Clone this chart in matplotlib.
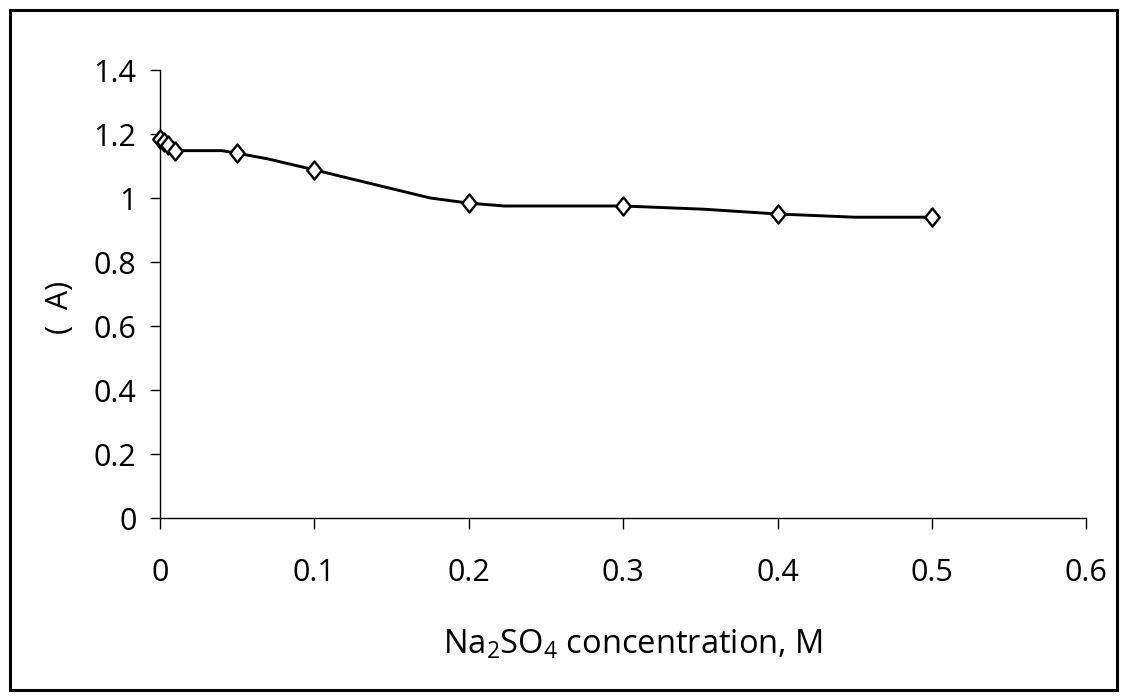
import numpy as np
import matplotlib
matplotlib.use("Agg")
import matplotlib.pyplot as plt
from matplotlib.patches import Rectangle
from matplotlib.path import Path

# ── Data ──────────────────────────────────────────────────────────────────────
conc_pts = [0.0, 0.0025, 0.005, 0.01, 0.05, 0.1, 0.2, 0.3, 0.4, 0.5]
current_pts = [1.185, 1.175, 1.165, 1.148, 1.14, 1.088, 0.984, 0.975, 0.95, 0.94]

# line drawn through the points plus the kinks visible between them
conc_line = [0.0, 0.0025, 0.005, 0.01, 0.04, 0.05, 0.07, 0.1, 0.122, 0.175,
             0.2, 0.223, 0.3, 0.352, 0.4, 0.45, 0.5]
current_line = [1.185, 1.175, 1.165, 1.148, 1.148, 1.14, 1.122, 1.088, 1.062, 1.0,
                0.984, 0.975, 0.975, 0.965, 0.95, 0.94, 0.94]

x_ticks = [0, 0.1, 0.2, 0.3, 0.4, 0.5, 0.6]
x_ticklabels = ["0", "0.1", "0.2", "0.3", "0.4", "0.5", "0.6"]
y_ticks = [0, 0.2, 0.4, 0.6, 0.8, 1.0, 1.2, 1.4]
y_ticklabels = ["0", "0.2", "0.4", "0.6", "0.8", "1", "1.2", "1.4"]

# ── Style ─────────────────────────────────────────────────────────────────────
plt.rcParams["font.family"] = ["Open Sans", "DejaVu Sans"]
plt.rcParams["mathtext.default"] = "regular"
FS = 22

fig = plt.figure(figsize=(11.27, 7.0), dpi=100)
ax = fig.add_axes([0.142, 0.26, 0.822, 0.64])

# figure frame
fig.patches.append(Rectangle((10 / 1127, 10 / 700), 1107 / 1127, 680 / 700,
                             transform=fig.transFigure, fill=False,
                             edgecolor="black", linewidth=2.2))

diamond = Path([(0, 1), (0.8, 0), (0, -1), (-0.8, 0), (0, 1)],
               [Path.MOVETO, Path.LINETO, Path.LINETO, Path.LINETO, Path.CLOSEPOLY])

ax.plot(conc_line, current_line, color="black", linewidth=2.1, zorder=2)
ax.plot(conc_pts, current_pts, linestyle="none", marker=diamond, markersize=13,
        markerfacecolor="white", markeredgecolor="black", markeredgewidth=1.7,
        zorder=3, clip_on=False)

ax.set_xlim(0, 0.6)
ax.set_ylim(0, 1.4)
ax.set_xticks(x_ticks)
ax.set_xticklabels(x_ticklabels)
ax.set_yticks(y_ticks)
ax.set_yticklabels(y_ticklabels)

for side in ["top", "right"]:
    ax.spines[side].set_visible(False)
for side in ["left", "bottom"]:
    ax.spines[side].set_linewidth(1.0)

ax.tick_params(axis="y", direction="out", length=7, width=1, pad=10, labelsize=FS)
ax.tick_params(axis="x", direction="out", length=8, width=1, pad=21, labelsize=FS)

ax.set_xlabel(r"Na$_2$SO$_4$ concentration, M", fontsize=23.5)
ax.xaxis.set_label_coords(0.51, -0.245)
ax.set_ylabel("(  A)", fontsize=FS)
ax.yaxis.set_label_coords(-0.092, 0.47)

fig.savefig("out.png", dpi=100)
